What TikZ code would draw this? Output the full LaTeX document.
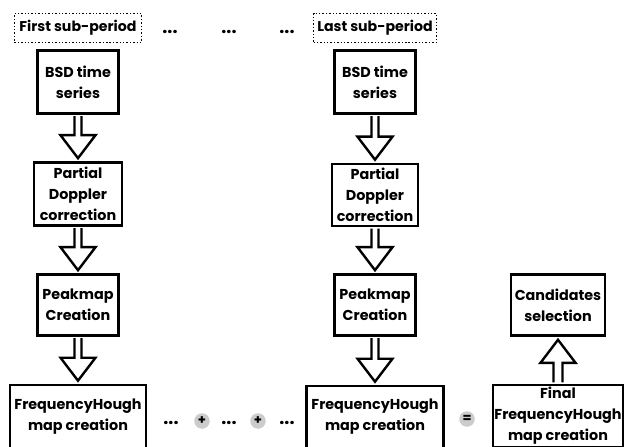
\documentclass[tikz,border=0pt]{standalone}
\usepackage{fontspec}
\setmainfont{Poppins}
\usetikzlibrary{calc}
\tikzset{
  box/.style={draw, line width=2.6bp, fill=white, inner sep=0pt, align=center,
    font=\fontsize{14.4}{21}\selectfont\bfseries},
  period/.style={draw, dotted, line width=1.4bp, inner sep=0pt, align=center,
    font=\fontsize{14.2}{16}\selectfont\bfseries},
  barrow/.style={draw, line width=2.4bp, fill=white, line join=miter, miter limit=10},
  dotsnode/.style={anchor=base, inner sep=0pt, font=\fontsize{18}{18}\selectfont\bfseries},
  opnode/.style={circle, fill=black!20, minimum size=15.5bp, inner sep=0pt,
    font=\fontsize{13}{13}\selectfont\bfseries}
}
\newcommand\blkdown[2]{%
  \draw[barrow] ($(#1.south)+(-3.5,1.3)$) -- ($(#2.north)+(-3.5,-26)$) -- ($(#2.north)+(-17.5,-26)$)
    -- ($(#2.north)+(0,-3)$) -- ($(#2.north)+(17.5,-26)$) -- ($(#2.north)+(3.5,-26)$)
    -- ($(#1.south)+(3.5,1.3)$);}
\begin{document}
\begin{tikzpicture}[x=1bp,y=-1bp]
\clip (0,0) rectangle (629,447);
\fill[white] (0,0) rectangle (629,447);
% periods
\node[period, minimum width=127bp, minimum height=29bp] (p1) at (78,28) {First sub-period};
\node[period, minimum width=123bp, minimum height=29bp] (p2) at (375,28) {Last sub-period};
\node[dotsnode] (d1) at (170,34) {...};
\node[dotsnode] (d2) at (229,34) {...};
\node[dotsnode] (d3) at (287,34) {...};
% left column
\node[box, minimum width=81bp, minimum height=63bp] (bsd1) at (78,82) {BSD time\\series};
\node[box, minimum width=88bp, minimum height=63bp] (pd1) at (78,194) {Partial\\Doppler\\correction};
\node[box, minimum width=81bp, minimum height=61bp] (pm1) at (78,305) {Peakmap\\Creation};
\node[box, minimum width=136bp, minimum height=64bp] (fh1) at (78,417) {FrequencyHough\\map creation};
% middle column
\node[box, minimum width=81bp, minimum height=63bp] (bsd2) at (375,82) {BSD time\\series};
\node[box, minimum width=86bp, minimum height=62bp] (pd2) at (375,195) {Partial\\Doppler\\correction};
\node[box, minimum width=81bp, minimum height=61bp] (pm2) at (375,305) {Peakmap\\Creation};
\node[box, minimum width=137bp, minimum height=62bp] (fh2) at (375,417) {FrequencyHough\\map creation};
% right column
\node[box, minimum width=94bp, minimum height=61bp] (cand) at (558,305) {Candidates\\selection};
\node[box, minimum width=130bp, minimum height=62bp] (fin) at (558,416) {Final\\FrequencyHough\\map creation};
% bottom operators
\node[dotsnode] (b1) at (171,424) {...};
\node[opnode] (plus1) at (202,421) {+};
\node[dotsnode] (b2) at (229,424) {...};
\node[opnode] (plus2) at (258,421) {+};
\node[dotsnode] (b3) at (287,424) {...};
\node[opnode] (eq) at (467,419) {=};
% arrows
\blkdown{bsd1}{pd1}
\blkdown{pd1}{pm1}
\blkdown{pm1}{fh1}
\blkdown{bsd2}{pd2}
\blkdown{pd2}{pm2}
\blkdown{pm2}{fh2}
\draw[barrow] ($(fin.north)+(-4.5,-1.3)$) -- ($(cand.south)+(-4.5,26)$) -- ($(cand.south)+(-17.5,26)$)
  -- ($(cand.south)+(0,3)$) -- ($(cand.south)+(17.5,26)$) -- ($(cand.south)+(4.5,26)$)
  -- ($(fin.north)+(4.5,-1.3)$);
\end{tikzpicture}
\end{document}
